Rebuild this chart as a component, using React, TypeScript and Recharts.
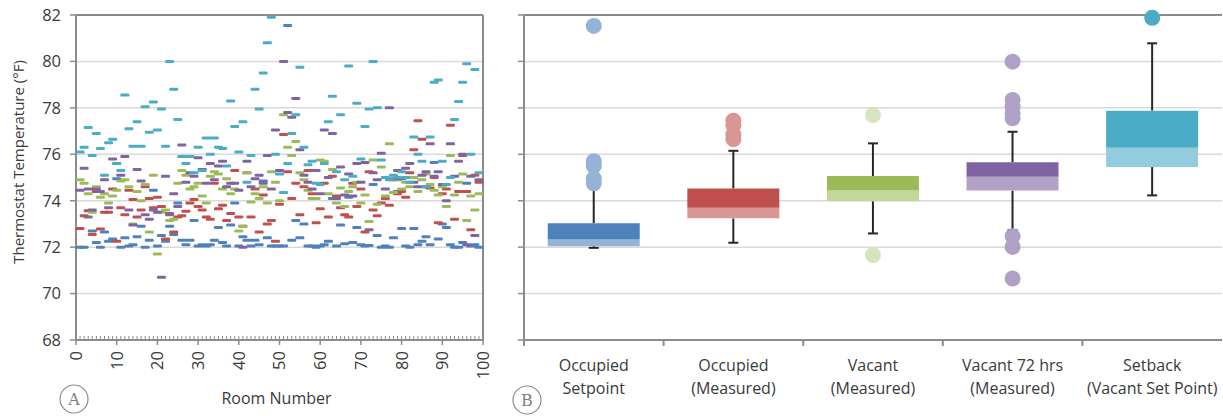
import React from "react";
import {
  ScatterChart, Scatter, ComposedChart, Bar, Line, Cell, XAxis, YAxis,
  CartesianGrid, ReferenceLine,
} from "recharts";

// Panel A: thermostat reading per room (rooms 1..99)
const OCC_SETPOINT = [
  72.0, 72.0, 73.3, 72.7, 72.2, 72.0, 72.65, 72.25, 72.35, 74.95, 72.0, 72.4, 72.05, 72.1, 72.45, 72.9, 72.0, 72.3, 74.45, 72.05,
  72.5, 72.25, 72.9, 72.55, 73.9, 72.3, 72.1, 72.3, 73.15, 72.05, 72.1, 72.05, 72.1, 72.3, 72.85, 72.2, 72.05, 72.95, 73.9, 72.05,
  72.45, 72.3, 72.05, 72.3, 72.1, 74.85, 72.4, 72.05, 72.05, 72.05, 72.05, 81.55, 72.3, 73.15, 72.4, 73.0, 72.05, 72.05, 72.0, 72.05,
  72.1, 72.25, 74.1, 72.05, 72.95, 72.15, 74.15, 72.2, 72.85, 72.1, 72.05, 72.07, 74.7, 72.5, 72.0, 72.05, 72.0, 72.4, 74.4, 72.8,
  72.05, 72.0, 72.8, 72.1, 72.25, 72.45, 72.1, 75.65, 72.35, 73.0, 72.85, 72.1, 72.0, 72.0, 72.2, 74.75, 72.05, 72.1, 72.0,
];
const OCC_MEASURED = [
  72.8, 73.35, 73.57, 72.55, 74.4, 72.78, 73.5, 73.5, 74.5, 72.25, 73.7, 73.4, 74.45, 74.05, 73.3, 73.6, 74.6, 74.1, 73.7, 74.15,
  73.75, 72.35, 73.4, 72.65, 73.3, 73.35, 73.55, 73.9, 74.05, 73.75, 73.6, 73.3, 73.2, 74.75, 73.65, 73.8, 73.15, 73.45, 75.3, 73.3,
  72.9, 75.2, 73.3, 74.5, 72.65, 74.25, 73.0, 73.15, 72.25, 73.85, 76.85, 75.25, 74.1, 74.75, 73.4, 74.6, 75.3, 74.3, 73.05, 73.65,
  74.75, 73.3, 75.05, 74.2, 73.7, 73.4, 73.3, 74.75, 73.75, 74.5, 72.65, 75.25, 73.6, 73.35, 73.9, 74.1, 73.8, 74.9, 74.3, 74.4,
  74.15, 75.2, 76.2, 77.45, 76.65, 74.6, 74.55, 75.0, 73.05, 74.3, 74.5, 77.25, 73.2, 74.4, 75.95, 74.4, 72.75, 75.1, 74.8,
];
const VACANT = [
  74.9, 74.75, 74.3, 73.5, 74.6, 74.15, 74.3, 73.9, 74.2, 74.45, 74.85, 74.9, 74.6, 73.0, 74.4, 74.0, 74.7, 72.65, 75.1, 71.7,
  73.5, 73.6, 73.15, 73.2, 74.75, 75.3, 75.1, 74.5, 74.6, 74.75, 74.2, 73.9, 75.05, 75.25, 75.15, 74.5, 74.95, 74.3, 74.5, 72.7,
  72.9, 75.2, 73.95, 74.3, 74.1, 74.6, 73.9, 75.25, 74.8, 74.0, 77.7, 76.3, 75.95, 76.55, 75.2, 74.9, 74.45, 74.1, 74.1, 75.75,
  75.7, 74.3, 75.35, 73.9, 74.55, 73.75, 74.4, 74.6, 74.8, 73.9, 74.25, 73.1, 75.75, 73.85, 75.45, 74.2, 76.45, 74.35, 74.9, 74.5,
  74.8, 74.6, 75.0, 74.4, 74.9, 75.15, 74.7, 74.45, 74.25, 74.6, 73.75, 75.95, 74.25, 74.8, 75.15, 73.15, 74.2, 73.6, 74.3,
];
const VACANT_72 = [
  74.45, 75.4, 74.5, 73.6, 74.5, 74.4, 74.9, 73.7, 75.8, 75.6, 75.1, 75.9, 73.6, 72.95, 75.35, 74.85, 73.4, 73.2, 73.6, 73.5,
  70.7, 75.05, 73.45, 74.3, 73.75, 76.4, 74.8, 75.2, 75.05, 75.85, 75.35, 74.75, 75.6, 74.9, 75.5, 75.7, 74.6, 74.75, 74.75, 74.45,
  72.0, 75.7, 74.6, 74.95, 75.1, 74.75, 75.95, 74.5, 77.05, 75.3, 80.0, 77.8, 77.6, 78.4, 76.2, 75.1, 74.8, 74.5, 75.3, 74.3,
  77.05, 75.0, 76.9, 74.1, 75.45, 74.25, 75.15, 74.2, 75.6, 74.8, 75.65, 72.75, 75.2, 74.9, 76.05, 74.5, 78.0, 74.95, 75.3, 74.95,
  75.4, 75.6, 74.8, 74.6, 75.1, 75.25, 76.45, 75.05, 75.25, 74.7, 74.0, 76.45, 75.05, 75.7, 76.0, 72.1, 75.05, 72.5, 74.9,
];
const SETBACK = [
  76.1, 76.3, 77.15, 75.95, 76.9, 76.25, 75.1, 76.5, 76.65, 75.6, 75.3, 78.55, 77.1, 76.35, 77.4, 76.35, 78.05, 76.95, 78.25, 77.05,
  77.95, 76.35, 80.0, 78.8, 77.5, 75.9, 75.6, 75.9, 75.2, 76.3, 75.3, 76.7, 76.0, 76.7, 76.3, 76.25, 75.5, 78.3, 77.2, 76.1,
  77.4, 74.8, 75.95, 78.8, 77.95, 79.5, 80.8, 81.9, 76.0, 75.15, 74.35, 75.6, 76.9, 77.7, 79.75, 76.3, 75.55, 75.7, 74.75, 74.7,
  75.6, 77.4, 78.5, 75.25, 77.7, 74.9, 79.8, 75.05, 78.2, 75.8, 77.2, 77.95, 80.0, 78.0, 75.75, 75.0, 74.9, 75.1, 75.0, 75.25,
  75.0, 74.8, 76.75, 76.0, 75.7, 74.6, 76.75, 79.1, 79.2, 75.7, 74.7, 75.0, 77.5, 78.27, 79.1, 79.9, 76.0, 79.65, 75.2,
];
const ROOMS = OCC_SETPOINT.map((_, i) => i + 1);
const ROOM_TICKS = Array.from({ length: 101 }, (_, i) => i);
const TEMP_TICKS = [68, 70, 72, 74, 76, 78, 80, 82];

// Panel B: box plot summary
const CAT_TOP = ["Occupied", "Occupied", "Vacant", "Vacant 72 hrs", "Setback"];
const CAT_BOTTOM = ["Setpoint", "(Measured)", "(Measured)", "(Measured)", "(Vacant Set Point)"];
const LOW = [71.97, 72.19, 72.59, 72.73, 74.23];
const Q1 = [72.04, 73.24, 73.98, 74.44, 75.45];
const MEDIAN = [72.33, 73.7, 74.44, 75.03, 76.28];
const Q3 = [73.03, 74.53, 75.06, 75.66, 77.88];
const HIGH = [74.6, 76.15, 76.47, 76.97, 80.78];
const OUTLIERS = [
  [81.53, 75.7, 75.5, 74.95, 74.75],
  [77.45, 77.25, 76.85, 76.65],
  [77.69, 71.66],
  [79.99, 78.34, 78.05, 77.76, 77.55, 72.47, 72.01, 70.65],
  [81.88],
];

const DARK = ["#4F81BD", "#C0504D", "#9BBB59", "#8064A2", "#4BACC6"];
const LIGHT = ["#95B3D7", "#D99694", "#C3D69B", "#B2A1C7", "#93CDDD"];
const OUT_COLOR = ["#95B3D7", "#D99694", "#D7E4BD", "#B2A1C7", "#4BACC6"];
const AXIS = "#8c8c8c";
const GRID = "#d9d9d9";
const TEXT = "#3a3a3a";
const FONT = "'Open Sans', sans-serif";
const HALF_BAND = 698 / 5 / 2;

const roomSeries = [OCC_SETPOINT, OCC_MEASURED, VACANT, VACANT_72, SETBACK];

const boxData = CAT_TOP.map((top, i) => {
  const row: any = {
    name: top + " " + CAT_BOTTOM[i],
    low: LOW[i], q1: Q1[i], med: MEDIAN[i], q3: Q3[i], high: HIGH[i],
  };
  OUTLIERS[i].forEach((v, k) => { row["o" + k] = v; });
  return row;
});
const outlierKeys = Array.from({ length: 8 }, (_, k) => "o" + k);

function RoomTick({ x, y, payload }: any) {
  const v = payload.value;
  const major = v % 10 === 0;
  return (
    <g>
      <line x1={x} x2={x} y1={y - 4} y2={y} stroke={AXIS} strokeWidth={1} />
      {major && <line x1={x} x2={x} y1={y} y2={y + 5} stroke={AXIS} strokeWidth={1.5} />}
      {major && (
        <text x={x} y={y + 11} dy="0.36em" textAnchor="end" transform={`rotate(-90 ${x} ${y + 11})`}
          fontSize={16.5} fill={TEXT} fontFamily={FONT}>{v}</text>
      )}
    </g>
  );
}

function CategoryTick({ x, y, payload }: any) {
  const i = payload.index;
  return (
    <g>
      <line x1={x - HALF_BAND} x2={x - HALF_BAND} y1={y} y2={y + 6} stroke={AXIS} strokeWidth={2} />
      <text x={x} y={y + 31} textAnchor="middle" fontSize={16} fill={TEXT} fontFamily={FONT}>{CAT_TOP[i]}</text>
      <text x={x} y={y + 54} textAnchor="middle" fontSize={16} fill={TEXT} fontFamily={FONT}>{CAT_BOTTOM[i]}</text>
    </g>
  );
}

const NoTick = () => <g />;

const dashShape = (color: string) => (p: any) =>
  <rect x={p.cx - 4.5} y={p.cy - 1.5} width={9} height={3} rx={1.2} fill={color} />;

// whisker from box edge to extreme; cap at the far end
const whisker = (capAtTop: boolean) => (p: any) => {
  const cx = p.x + p.width / 2;
  const top = Math.min(p.y, p.y + p.height);
  const bottom = Math.max(p.y, p.y + p.height);
  const cap = capAtTop ? top : bottom;
  return (
    <g stroke="#262626" strokeWidth={2}>
      <line x1={cx} x2={cx} y1={top} y2={bottom} />
      <line x1={cx - 5} x2={cx + 5} y1={cap} y2={cap} />
    </g>
  );
};

const renderOutlier = (p: any) => {
  if (p.cx == null || p.cy == null || !isFinite(p.cy)) return <g key={p.key} />;
  return <circle key={p.key} cx={p.cx} cy={p.cy} r={8} fill={OUT_COLOR[p.index]} />;
};

export default function App() {
  return (
    <div style={{ position: "absolute", left: 0, top: 0, width: 1223, height: 416, background: "#fff", fontFamily: FONT }}>
      <div style={{ position: "absolute", left: 0, top: 0 }}>
        <ScatterChart width={500} height={416} margin={{ top: 15, right: 17, bottom: 0, left: 0 }}>
          <CartesianGrid vertical={false} stroke={GRID} strokeWidth={1.5} />
          <XAxis type="number" dataKey="room" domain={[0, 100]} ticks={ROOM_TICKS} interval={0}
            tick={<RoomTick />} tickLine={false} tickSize={0} tickMargin={0} height={76}
            axisLine={{ stroke: AXIS, strokeWidth: 2 }}
            label={({ viewBox }: any) => (
              <text x={viewBox.x + viewBox.width / 2 - 3} y={404} textAnchor="middle" fontSize={16}
                fill={TEXT} fontFamily={FONT}>Room Number</text>
            )} />
          <YAxis type="number" dataKey="t" domain={[68, 82]} ticks={TEMP_TICKS} interval={0} width={76}
            tickSize={6} tickMargin={9} tick={{ fontSize: 16.5, fill: TEXT, fontFamily: FONT }}
            axisLine={{ stroke: AXIS, strokeWidth: 2 }} tickLine={{ stroke: AXIS, strokeWidth: 1.5 }}
            label={() => (
              <text x={19} y={162} textAnchor="middle" dy="0.35em"
                transform="rotate(-90 19 162)" fontSize={15}
                fill={TEXT} fontFamily={FONT}>Thermostat Temperature (°F)</text>
            )} />
          <ReferenceLine y={82} stroke={AXIS} strokeWidth={2} />
          <ReferenceLine x={100} stroke={AXIS} strokeWidth={2} />
          {roomSeries.map((vals, s) => (
            <Scatter key={s} data={ROOMS.map((room, i) => ({ room, t: vals[i] }))}
              shape={dashShape(DARK[s])} isAnimationActive={false} />
          ))}
        </ScatterChart>
      </div>

      <div style={{ position: "absolute", left: 500, top: 0 }}>
        <ComposedChart width={723} height={416} data={boxData} barCategoryGap="17%"
          margin={{ top: 15, right: 1, bottom: 0, left: 0 }}>
          <CartesianGrid vertical={false} stroke={GRID} strokeWidth={1.5} xAxisId="a" />
          <XAxis xAxisId="a" dataKey="name" type="category" interval={0} height={76}
            tick={<CategoryTick />} tickLine={false} tickSize={0} tickMargin={0}
            axisLine={{ stroke: AXIS, strokeWidth: 2 }} />
          <XAxis xAxisId="w" dataKey="name" type="category" hide />
          <XAxis xAxisId="b" dataKey="name" type="category" hide />
          <XAxis xAxisId="c" dataKey="name" type="category" hide />
          <YAxis domain={[68, 82]} ticks={TEMP_TICKS} interval={0} width={24} tick={NoTick}
            tickSize={6} axisLine={{ stroke: AXIS, strokeWidth: 2 }} tickLine={{ stroke: AXIS, strokeWidth: 1.5 }} />
          <ReferenceLine xAxisId="a" y={82} stroke={AXIS} strokeWidth={2} />
          <Bar xAxisId="a" dataKey={(d: any) => [d.q3, d.high]} shape={whisker(true)} isAnimationActive={false} />
          <Bar xAxisId="w" dataKey={(d: any) => [d.low, d.q1]} shape={whisker(false)} isAnimationActive={false} />
          <Bar xAxisId="b" dataKey={(d: any) => [d.q1, d.med]} isAnimationActive={false}>
            {boxData.map((_, i) => <Cell key={i} fill={LIGHT[i]} />)}
          </Bar>
          <Bar xAxisId="c" dataKey={(d: any) => [d.med, d.q3]} isAnimationActive={false}>
            {boxData.map((_, i) => <Cell key={i} fill={DARK[i]} />)}
          </Bar>
          {outlierKeys.map((k) => (
            <Line key={k} xAxisId="a" dataKey={k} stroke="none" dot={renderOutlier} activeDot={false}
              isAnimationActive={false} />
          ))}
        </ComposedChart>
      </div>

      <svg width={1223} height={416} style={{ position: "absolute", left: 0, top: 0, pointerEvents: "none" }}>
        <circle cx={74} cy={399} r={14} fill="none" stroke="#8c8c8c" strokeWidth={1.2} />
        <text x={74} y={405} textAnchor="middle" fontSize={16} fill="#7f7f7f" fontFamily="'DejaVu Serif', serif">A</text>
        <circle cx={527} cy={400} r={14} fill="none" stroke="#8c8c8c" strokeWidth={1.2} />
        <text x={527} y={406} textAnchor="middle" fontSize={16} fill="#7f7f7f" fontFamily="'DejaVu Serif', serif">B</text>
      </svg>
    </div>
  );
}
